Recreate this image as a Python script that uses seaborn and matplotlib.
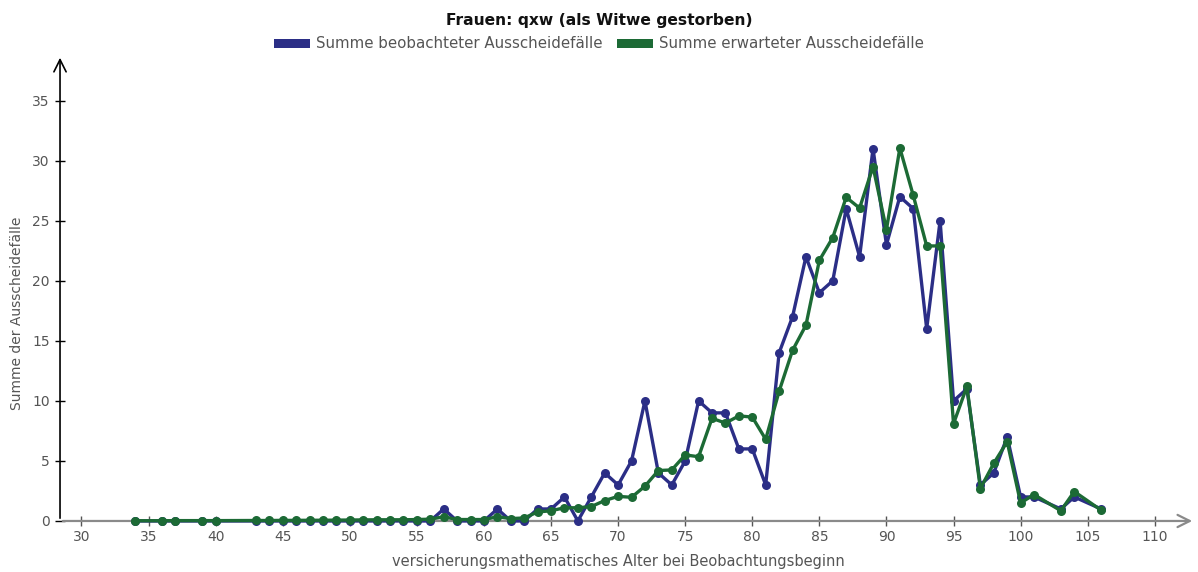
import pandas as pd
import seaborn as sns
import numpy as np
import matplotlib

matplotlib.use("Agg")
import matplotlib.pyplot as plt
from matplotlib.patches import Patch


# age at start of observation
ages = [34, 36, 37, 39, 40] + list(range(43, 102)) + [103, 104, 106]

# observed deaths (widow)
observed = [
    0, 0, 0, 0, 0,
    0, 0, 0, 0, 0, 0, 0, 0, 0, 0, 0, 0, 0, 0,  # 43-56
    1, 0, 0, 0, 1, 0, 0, 1, 1, 2,  # 57-66
    0, 2, 4, 3, 5, 10, 4, 3, 5, 10,  # 67-76
    9, 9, 6, 6, 3, 14, 17, 22, 19, 20,  # 77-86
    26, 22, 31, 23, 27, 26, 16, 25, 10, 11,  # 87-96
    3, 4, 7, 2, 2,  # 97-101
    1, 2, 1,
]

# expected deaths
expected = [
    0.02, 0.02, 0.03, 0.03, 0.03,
    0.04, 0.04, 0.05, 0.05, 0.06, 0.06, 0.07, 0.08, 0.09, 0.10, 0.10,
    0.10, 0.12, 0.15,  # 43-56
    0.35, 0.12, 0.12, 0.12, 0.35, 0.20, 0.25, 0.75, 0.85, 1.10,  # 57-66
    1.10, 1.20, 1.70, 2.05, 1.97, 2.90, 4.20, 4.25, 5.50, 5.35,  # 67-76
    8.55, 8.15, 8.75, 8.65, 6.80, 10.8, 14.2, 16.3, 21.7, 23.6,  # 77-86
    26.95, 26.05, 29.5, 24.25, 31.05, 27.1, 22.9, 22.9, 8.1, 11.2,  # 87-96
    2.7, 4.8, 6.6, 1.5, 2.2,  # 97-101
    0.85, 2.45, 0.9,
]

series_names = [
    "Summe beobachteter Ausscheidefälle",
    "Summe erwarteter Ausscheidefälle",
]
colors = ["#2b2e86", "#1c6a35"]

x_ticks = list(range(30, 111, 5))
y_ticks = list(range(0, 36, 5))


def build_frame():
    """Long format frame for seaborn

    Returns:
        DataFrame: one row per age and series
    """
    n = len(ages)
    return pd.DataFrame(
        {
            "Alter": ages * 2,
            "Wert": observed + expected,
            "Reihe": [series_names[0]] * n + [series_names[1]] * n,
        }
    )


sns.set_style("white")
plt.rcParams["font.family"] = ["DejaVu Sans"]

fig = plt.figure(figsize=(11.98, 5.72), dpi=100)
ax = fig.add_axes([0.0501, 0.0892, 0.9474, 0.8147])

data = build_frame()

# blue first, green on top
sns.lineplot(
    data=data,
    x="Alter",
    y="Wert",
    hue="Reihe",
    hue_order=series_names,
    palette=colors,
    marker="o",
    markersize=6.5,
    markeredgewidth=0,
    linewidth=2.4,
    legend=False,
    ax=ax,
    clip_on=False,
    zorder=3,
)

ax.set_xlim(28.4, 113.0)
ax.set_ylim(0, 38.8)
ax.set_xticks(x_ticks)
ax.set_yticks(y_ticks)

# hide the box, draw axis arrows instead
for side in ["top", "right", "left", "bottom"]:
    ax.spines[side].set_visible(False)

ax.annotate(
    "",
    xy=(1, 0),
    xytext=(0, 0),
    xycoords="axes fraction",
    arrowprops=dict(arrowstyle="->", color="#8a8a8a", lw=1.6, mutation_scale=22),
    zorder=1,
)
ax.annotate(
    "",
    xy=(0, 1),
    xytext=(0, 0),
    xycoords="axes fraction",
    arrowprops=dict(arrowstyle="->", color="black", lw=1.2, mutation_scale=22),
    zorder=1,
)

# "+" shaped ticks
ax.tick_params(
    axis="x", direction="inout", length=7, width=1, color="#555555",
    labelcolor="#555555", labelsize=10, pad=3, bottom=True,
)
ax.tick_params(
    axis="y", direction="inout", length=7, width=1, color="black",
    labelcolor="#555555", labelsize=10, pad=4, left=True,
)

ax.set_xlabel(
    "versicherungsmathematisches Alter bei Beobachtungsbeginn",
    fontsize=10.5, color="#555555",
)
ax.set_ylabel("Summe der Ausscheidefälle", fontsize=10, color="#555555")
ax.xaxis.set_label_coords(0.492, -0.07)
ax.yaxis.set_label_coords(-0.032, 0.446)

fig.text(
    0.5, 1 - 20 / 572, "Frauen: qxw (als Witwe gestorben)",
    ha="center", va="center", fontsize=11.2, fontweight="bold", color="#111111",
)

handles = [Patch(facecolor=c, edgecolor="none") for c in colors]
fig.legend(
    handles,
    series_names,
    loc="center",
    bbox_to_anchor=(0.5, 1 - 44 / 572),
    ncol=2,
    frameon=False,
    fontsize=10.8,
    handlelength=2.4,
    handleheight=0.55,
    handletextpad=0.4,
    columnspacing=1.0,
    labelcolor="#555555",
)

fig.savefig("out.png", dpi=100)
